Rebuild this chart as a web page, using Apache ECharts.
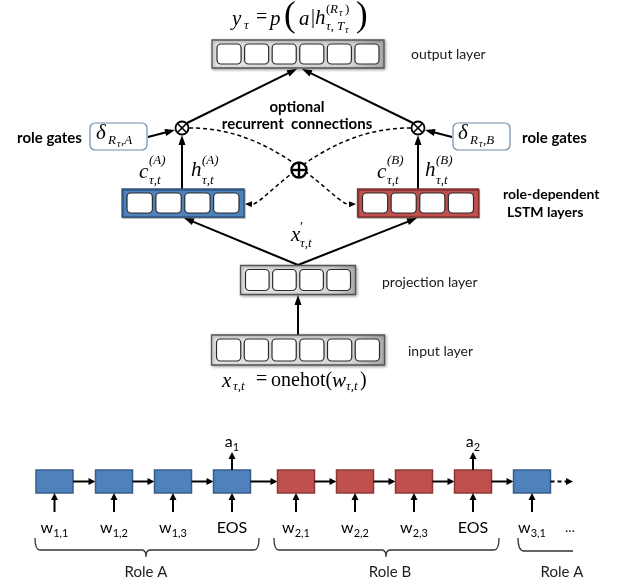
<!DOCTYPE html>
<html><head><meta charset="utf-8">
<script src="https://cdn.jsdelivr.net/npm/echarts/dist/echarts.min.js"></script>
<style>html,body{margin:0;padding:0;background:#fff}#c{width:620px;height:587px}</style>
</head><body><div id="c"></div>
<script>
// ---------- diagram content ----------
const layerNames = ['output layer', 'role A LSTM', 'role B LSTM', 'projection layer', 'input layer'];
const layerCells = [6, 4, 4, 4, 6];
const layerKind  = ['grey', 'blue', 'red', 'grey', 'grey'];
// layout of layers (canvas units)
const layerCX = [298, 183, 418, 298, 298];
const layerCY = [54, 203, 203, 280, 350];
const layerW  = [172, 122, 121, 115, 173];
const layerH  = [28, 28, 28, 29, 30];

const gateType = ['mul', 'mul', 'add'];
const gateCX = [182, 418, 299];
const gateCY = [128, 128, 170];
const gateR  = [6.5, 6.5, 7.5];

const roleGateBoxCX = [118.5, 481.5];
const roleGateBoxCY = [136.5, 136.5];

const solidArrows = [
  [187, 123, 297, 69],
  [413, 123, 302, 69],
  [148, 137, 175, 130],
  [452, 137, 425, 130],
  [182, 189, 182, 135],
  [418, 189, 418, 135],
  [298, 265, 184, 218],
  [298, 265, 417, 218],
  [298, 335, 298, 295]
];
const dashedCurves = [
  [189, 128, 280, 127, 335, 205, 356, 204],
  [411, 128, 319, 127, 264, 205, 245, 204]
];

const sansLabels = ['output layer', 'projection layer', 'input layer', 'optional', 'recurrent  connections', 'role gates', 'role gates', 'role-dependent', 'LSTM layers'];
const sansBold   = [false, false, false, true, true, true, true, true, true];
const sansSize   = [14, 14, 14, 15, 15, 15, 15, 14, 14];
const sansX = [411, 382, 408, 297, 297, 17, 522, 503, 507];
const sansY = [54, 282, 351, 107, 124, 138, 138, 194, 212];
const sansAlign = ['left', 'left', 'left', 'center', 'center', 'left', 'left', 'left', 'left'];

// math pieces: text, style (i italic / r roman), size
const mathText = [
  'y','τ','=','p','(','a','|','h','(','R','τ',')','τ,','T','τ',')',
  'x','′','τ,t',
  'x','τ,t','=','onehot(','w','τ,t',')',
  'c','(A)','τ,t','h','(A)','τ,t',
  'c','(B)','τ,t','h','(B)','τ,t',
  'δ','R','τ',',A',
  'δ','R','τ',',B'
];
const mathStyle = [
  'i','i','r','i','r','i','r','i','r','i','i','r','i','i','i','r',
  'i','r','i',
  'i','i','r','r','i','i','r',
  'i','i','i','i','i','i',
  'i','i','i','i','i','i',
  'i','i','i','i',
  'i','i','i','i'
];
const mathSize = [
  21,13,20,21,35,21,20,21,13,13,10,13,13,13,10,35,
  21,14,13,
  21,13,20,20,21,13,20,
  21,13,13,21,13,13,
  21,13,13,21,13,13,
  21,13,10,13,
  21,13,10,13
];
const mathX = [
  232,244,256,270,284,299,311,315,326,330,339,345,326,337,345,356,
  291,300,300,
  222,233,256,271,332,346,360,
  139,149,149,191,202,202,
  377,387,387,425,436,436,
  96,108,117,121,
  458,470,479,483
];
const mathY = [
  19,26,18,19,17,19,18,18,10,10,13,10,27,27,30,17,
  235,228,244,
  381,387,380,381,381,387,381,
  172,161,181,170,161,181,
  172,161,181,170,161,181,
  133,141,144,141,
  133,141,144,141
];

// bottom sequence
const seqWord = ['w','w','w','EOS','w','w','w','EOS','w'];
const seqSub  = ['1,1','1,2','1,3','','2,1','2,2','2,3','','3,1'];
const seqRole = ['A','A','A','A','B','B','B','B','A'];
const seqOutWord = ['','','','a','','','','a',''];
const seqOutSub  = ['','','','1','','','','2',''];
const seqCX = [54.5, 114, 173, 232, 296, 355, 414, 473, 532];
const seqCY = 481.5;

const roleNames = ['Role A', 'Role B', 'Role A'];
const braceX0 = [35, 274, 518];
const braceX1 = [259, 499, 573];
const braceMid = [146, 386, null];
const roleLabelX = [146, 390, 562];

// ---------- rendering helpers ----------
const SERIF = '"Liberation Serif", "DejaVu Serif", serif';
const SANS = 'Lato, "Open Sans", sans-serif';
const BLUE = '#4f81bd', BLUE_D = '#2f5282', RED = '#c0504d', RED_D = '#843230';

function arrowGroup(p1, p2, lw, hl, hw, color, dash) {
  const dx = p2[0] - p1[0], dy = p2[1] - p1[1];
  const L = Math.hypot(dx, dy), ux = dx / L, uy = dy / L;
  const bx = p2[0] - ux * hl, by = p2[1] - uy * hl;
  return [
    {type: 'line', shape: {x1: p1[0], y1: p1[1], x2: bx + ux, y2: by + uy},
     style: {stroke: color, lineWidth: lw, lineDash: dash || null, fill: null}},
    {type: 'polygon', shape: {points: [[p2[0], p2[1]], [bx - uy * hw / 2, by + ux * hw / 2], [bx + uy * hw / 2, by - ux * hw / 2]]},
     style: {fill: color}}
  ];
}
function txt(x, y, text, font, align, color, extra) {
  return {type: 'text', x: x, y: y,
    style: Object.assign({legacy: false, text: text, font: font, fill: color || '#111', align: align || 'left', verticalAlign: 'middle'}, extra || {})};
}

function renderLayer(params, api) {
  const i = params.dataIndex;
  const c = api.coord([api.value(0), api.value(1)]);
  const s = api.size([layerW[i], layerH[i]]).map(Math.abs);
  const x0 = c[0] - s[0] / 2, y0 = c[1] - s[1] / 2;
  const k = layerKind[i];
  let fill, stroke;
  if (k === 'blue') { fill = BLUE; stroke = BLUE_D; }
  else if (k === 'red') { fill = RED; stroke = RED_D; }
  else {
    fill = {type: 'linear', x: 0, y: 0, x2: 1, y2: 0, colorStops: [
      {offset: 0, color: '#e4e4e4'}, {offset: 0.8, color: '#d6d6d6'}, {offset: 1, color: '#aaaaaa'}]};
    stroke = '#555';
  }
  const ch = [{type: 'rect', shape: {x: x0, y: y0, width: s[0], height: s[1]},
    style: {fill: fill, stroke: stroke, lineWidth: 1.3, shadowBlur: k === 'grey' ? 3 : 0, shadowColor: 'rgba(0,0,0,0.35)', shadowOffsetX: 1, shadowOffsetY: 1}}];
  const n = layerCells[i], padX = 5, padY = 4, gap = 3.5;
  const cw = (s[0] - 2 * padX - (n - 1) * gap) / n, chh = s[1] - 2 * padY;
  for (let j = 0; j < n; j++) {
    ch.push({type: 'rect', shape: {x: x0 + padX + j * (cw + gap), y: y0 + padY, width: cw, height: chh, r: 4},
      style: {fill: '#fff', stroke: '#2a2a2a', lineWidth: 1.2}});
  }
  return {type: 'group', children: ch};
}

function renderGate(params, api) {
  const i = params.dataIndex;
  const c = api.coord([api.value(0), api.value(1)]);
  const r = gateR[i];
  const ch = [{type: 'circle', shape: {cx: c[0], cy: c[1], r: r}, style: {fill: '#fff', stroke: '#000', lineWidth: gateType[i] === 'add' ? 2.4 : 1.8}}];
  if (gateType[i] === 'mul') {
    const d = r * 0.7;
    ch.push({type: 'line', shape: {x1: c[0] - d, y1: c[1] - d, x2: c[0] + d, y2: c[1] + d}, style: {stroke: '#000', lineWidth: 1.6}});
    ch.push({type: 'line', shape: {x1: c[0] - d, y1: c[1] + d, x2: c[0] + d, y2: c[1] - d}, style: {stroke: '#000', lineWidth: 1.6}});
  } else {
    ch.push({type: 'line', shape: {x1: c[0] - r, y1: c[1], x2: c[0] + r, y2: c[1]}, style: {stroke: '#000', lineWidth: 2.4}});
    ch.push({type: 'line', shape: {x1: c[0], y1: c[1] - r, x2: c[0], y2: c[1] + r}, style: {stroke: '#000', lineWidth: 2.4}});
  }
  return {type: 'group', children: ch};
}

function renderRoleBox(params, api) {
  const c = api.coord([api.value(0), api.value(1)]);
  const s = api.size([57, 27]).map(Math.abs);
  return {type: 'rect', shape: {x: c[0] - s[0] / 2, y: c[1] - s[1] / 2, width: s[0], height: s[1], r: 5},
    style: {fill: '#fff', stroke: '#7089a8', lineWidth: 1.2}};
}

function renderArrow(params, api) {
  const p1 = api.coord([api.value(0), api.value(1)]);
  const p2 = api.coord([api.value(2), api.value(3)]);
  return {type: 'group', children: arrowGroup(p1, p2, 2, 10, 7, '#000')};
}

function renderCurve(params, api) {
  const p0 = api.coord([api.value(0), api.value(1)]);
  const p1 = api.coord([api.value(2), api.value(3)]);
  const p2 = api.coord([api.value(4), api.value(5)]);
  const p3 = api.coord([api.value(6), api.value(7)]);
  const dx = p3[0] - p2[0], dy = p3[1] - p2[1], L = Math.hypot(dx, dy);
  const ux = dx / L, uy = dy / L, hl = 7, hw = 6;
  const bx = p3[0] - ux * hl, by = p3[1] - uy * hl;
  return {type: 'group', children: [
    {type: 'bezierCurve', shape: {x1: p0[0], y1: p0[1], cpx1: p1[0], cpy1: p1[1], cpx2: p2[0], cpy2: p2[1], x2: bx, y2: by},
     style: {stroke: '#000', lineWidth: 1.5, lineDash: [4, 3], fill: null}},
    {type: 'polygon', shape: {points: [[p3[0], p3[1]], [bx - uy * hw / 2, by + ux * hw / 2], [bx + uy * hw / 2, by - ux * hw / 2]]}, style: {fill: '#000'}}
  ]};
}

function renderSans(params, api) {
  const i = params.dataIndex;
  const c = api.coord([api.value(0), api.value(1)]);
  const font = (sansBold[i] ? 'bold ' : '') + sansSize[i] + 'px ' + SANS;
  return txt(c[0], c[1], sansLabels[i], font, sansAlign[i], sansBold[i] ? '#000' : '#1a1a1a');
}

function renderMath(params, api) {
  const i = params.dataIndex;
  const c = api.coord([api.value(0), api.value(1)]);
  const font = (mathStyle[i] === 'i' ? 'italic ' : '') + mathSize[i] + 'px ' + SERIF;
  return txt(c[0], c[1], mathText[i], font, 'left', '#000');
}

function renderSeq(params, api) {
  const i = params.dataIndex;
  const c = api.coord([api.value(0), api.value(1)]);
  const s = api.size([37, 23]).map(Math.abs);
  const x0 = c[0] - s[0] / 2, y0 = c[1] - s[1] / 2;
  const isA = seqRole[i] === 'A';
  const ch = [];
  ch.push({type: 'rect', shape: {x: x0, y: y0, width: s[0], height: s[1]},
    style: {fill: isA ? BLUE : RED, stroke: isA ? '#385d8a' : '#8c3836', lineWidth: 1.5}});
  const below = api.coord([api.value(0), 512]);
  ch.push.apply(ch, arrowGroup(below, [c[0], y0 + s[1]], 2, 7, 7, '#000'));
  if (seqOutWord[i]) {
    const up = api.coord([api.value(0), 452]);
    ch.push.apply(ch, arrowGroup([c[0], y0], up, 2, 7, 7, '#000'));
  }
  if (i < seqCX.length - 1) {
    const nx = api.coord([seqCX[i + 1] - 18.5, api.value(1)]);
    ch.push.apply(ch, arrowGroup([x0 + s[0], c[1]], nx, 2, 7, 7, '#000'));
  } else {
    const nx = api.coord([573, api.value(1)]);
    ch.push.apply(ch, arrowGroup([x0 + s[0], c[1]], nx, 2, 7, 7, '#000', [4, 3]));
  }
  return {type: 'group', children: ch};
}

const richStyles = {
  m: {fontFamily: SANS, fontSize: 16, lineHeight: 20, color: '#1e1e1e'},
  s: {fontFamily: SANS, fontSize: 11, height: 10, verticalAlign: 'bottom', color: '#1e1e1e'}
};
function renderSeqLabel(params, api) {
  const i = params.dataIndex;
  const c = api.coord([api.value(0), 528]);
  const out = [];
  const w = seqWord[i];
  const t = seqSub[i] ? '{m|' + w + '}{s|' + seqSub[i] + '}' : '{m|' + w + '}';
  out.push({type: 'text', x: c[0], y: c[1], style: {legacy: false, text: t, rich: richStyles, align: 'center', verticalAlign: 'middle'}});
  if (seqOutWord[i]) {
    const o = api.coord([api.value(0), 442]);
    out.push({type: 'text', x: o[0], y: o[1], style: {legacy: false, text: '{m|' + seqOutWord[i] + '}{s|' + seqOutSub[i] + '}', rich: richStyles, align: 'center', verticalAlign: 'middle'}});
  }
  if (i === seqCX.length - 1) {
    const d = api.coord([570, 527]);
    out.push(txt(d[0], d[1], '...', '14px ' + SANS, 'center', '#1e1e1e'));
  }
  return {type: 'group', children: out};
}

function renderBrace(params, api) {
  const i = params.dataIndex;
  const a = api.coord([braceX0[i], 538]);
  const b = api.coord([braceX1[i], 538]);
  const yl = api.coord([0, 550])[1];
  let d;
  if (braceMid[i] !== null) {
    const m = api.coord([braceMid[i], 550])[0];
    d = `M${a[0]},${a[1]} Q${a[0]},${yl} ${a[0] + 5},${yl} L${m - 4},${yl} Q${m},${yl} ${m},${yl + 7} Q${m},${yl} ${m + 4},${yl} L${b[0] - 5},${yl} Q${b[0]},${yl} ${b[0]},${b[1]}`;
  } else {
    d = `M${a[0]},${a[1]} Q${a[0]},${yl + 1} ${a[0] + 6},${yl + 1} L${b[0]},${yl + 1}`;
  }
  const lab = api.coord([roleLabelX[i], 572]);
  return {type: 'group', children: [
    {type: 'path', shape: {pathData: d}, style: {stroke: '#333', lineWidth: 1.3, fill: null}},
    txt(lab[0], lab[1], roleNames[i], '15px ' + SANS, 'center', '#1e1e1e')
  ]};
}

const chart = echarts.init(document.getElementById('c'), null, {renderer: 'canvas'});
const option = {
  animation: false,
  backgroundColor: '#fff',
  grid: {left: 0, right: 0, top: 0, bottom: 0},
  xAxis: {type: 'value', min: 0, max: 620, show: false},
  yAxis: {type: 'value', min: 0, max: 587, inverse: true, show: false},
  series: [
    {type: 'custom', name: 'recurrent', renderItem: renderCurve, data: dashedCurves, z: 1},
    {type: 'custom', name: 'arrows', renderItem: renderArrow, data: solidArrows, z: 2},
    {type: 'custom', name: 'layers', renderItem: renderLayer, data: layerNames.map((n, i) => [layerCX[i], layerCY[i]]), z: 3},
    {type: 'custom', name: 'gates', renderItem: renderGate, data: gateType.map((g, i) => [gateCX[i], gateCY[i]]), z: 4},
    {type: 'custom', name: 'roleGates', renderItem: renderRoleBox, data: roleGateBoxCX.map((x, i) => [x, roleGateBoxCY[i]]), z: 4},
    {type: 'custom', name: 'sans', renderItem: renderSans, data: sansLabels.map((t, i) => [sansX[i], sansY[i]]), z: 5},
    {type: 'custom', name: 'math', renderItem: renderMath, data: mathText.map((t, i) => [mathX[i], mathY[i]]), z: 5},
    {type: 'custom', name: 'sequence', renderItem: renderSeq, data: seqCX.map(x => [x, seqCY]), z: 3},
    {type: 'custom', name: 'seqLabels', renderItem: renderSeqLabel, data: seqCX.map(x => [x, seqCY]), z: 5},
    {type: 'custom', name: 'braces', renderItem: renderBrace, data: roleNames.map((r, i) => [braceX0[i], 538]), z: 5}
  ]
};
chart.setOption(option);
</script></body></html>
